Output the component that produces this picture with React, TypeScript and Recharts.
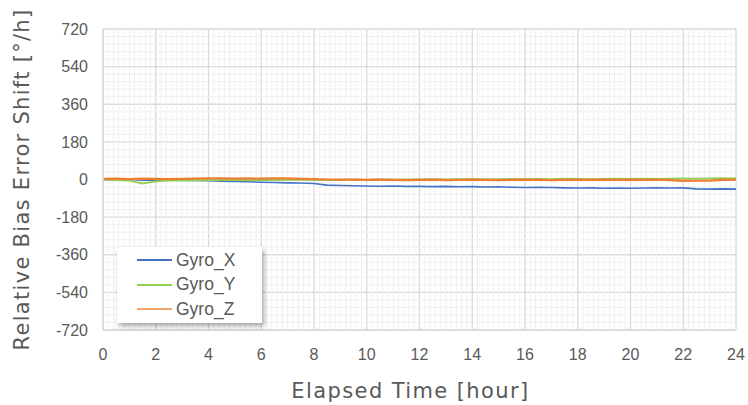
import React from "react";
import {
  LineChart,
  Line,
  XAxis,
  YAxis,
  CartesianGrid,
  ReferenceLine,
  Label,
} from "recharts";

// 経過時間 [hour]
const hours = [
  0, 0.5, 1, 1.5, 2, 2.5, 3, 3.5, 4, 4.5, 5, 5.5, 6, 6.5, 7, 7.5, 8, 8.5, 9, 9.5, 10, 10.5, 11,
  11.5, 12, 12.5, 13, 13.5, 14, 14.5, 15, 15.5, 16, 16.5, 17, 17.5, 18, 18.5, 19, 19.5, 20, 20.5,
  21, 21.5, 22, 22.5, 23, 23.5, 24,
];

const gyroX = [
  0, -1, 0, -3, -3, -2, -4, -5, -6, -8, -9, -11, -13, -14, -16, -17, -19, -27, -29, -30, -31, -32,
  -31, -33, -33, -34, -33, -35, -34, -36, -35, -37, -38, -37, -38, -40, -41, -40, -42, -41, -42,
  -41, -40, -41, -40, -45, -46, -45, -46,
];

const gyroY = [
  -1, -3, -5, -19, -9, -5, -4, -3, -4, -2, -3, -4, -3, -2, -3, -1, -2, -3, -2, -1, -2, 0, -1, 1, 0,
  2, 1, 2, 3, 1, 2, 3, 2, 3, 2, 4, 3, 2, 3, 4, 3, 4, 3, 4, 5, 4, 5, 6, 5,
];

const gyroZ = [
  3, 4, 2, 4, 3, 2, 3, 4, 5, 6, 4, 5, 4, 6, 5, 3, 2, 0, -1, 0, -2, -1, -2, -3, -2, -1, -3, -2, -1,
  -2, -3, -2, -1, -2, -3, -2, -1, -2, -1, -2, -1, -2, -1, -3, -7, -6, -5, -2, -1,
];

const xTicks = [0, 2, 4, 6, 8, 10, 12, 14, 16, 18, 20, 22, 24];
const yTicks = [-720, -540, -360, -180, 0, 180, 360, 540, 720];

// 補助目盛 (5分割)
const xMinor = Array.from({ length: 121 }, (_, i) => i * 0.2).filter(
  (v) => Math.abs(v / 2 - Math.round(v / 2)) > 1e-6
);
const yMinor = Array.from({ length: 41 }, (_, i) => -720 + i * 36).filter(
  (v) => v % 180 !== 0
);

const series = [
  { key: "Gyro_X", color: "#4472C4", width: 1.6 },
  { key: "Gyro_Y", color: "#92D050", width: 1.8 },
  { key: "Gyro_Z", color: "#ED7D31", width: 2.2 },
];

const data = hours.map((h, i) => ({
  hour: h,
  Gyro_X: gyroX[i],
  Gyro_Y: gyroY[i],
  Gyro_Z: gyroZ[i],
}));

const TEXT = "#595959";
const TICK_FONT = "'Liberation Sans', Arial, sans-serif";
const TITLE_FONT = "'DejaVu Sans', 'Noto Sans', sans-serif";

// 凡例はチャートの余白に影響させないため重ねて配置
function LegendBox() {
  return (
    <div
      style={{
        position: "absolute",
        left: 117,
        top: 247,
        background: "#fff",
        width: 145,
        height: 76,
        boxShadow: "2px 3px 5px rgba(0,0,0,0.35)",
        paddingTop: 1,
        boxSizing: "border-box",
      }}
    >
      {series.map((s) => (
        <div
          key={s.key}
          style={{ display: "flex", alignItems: "center", height: 24.5, paddingLeft: 20 }}
        >
          <div
            style={{
              width: 35,
              height: 2,
              background: s.color,
              opacity: s.key === "Gyro_Z" ? 0.7 : 1,
            }}
          />
          <span style={{ marginLeft: 4, fontFamily: TICK_FONT, fontSize: 17.5, color: TEXT }}>
            {s.key}
          </span>
        </div>
      ))}
    </div>
  );
}

export default function App() {
  return (
    <div
      style={{ position: "absolute", left: 0, top: 0, width: 748, height: 405, background: "#fff" }}
    >
      <LineChart
        width={748}
        height={405}
        data={data}
        margin={{ top: 29, right: 12, bottom: 0, left: 0 }}
      >
        {xMinor.map((v) => (
          <ReferenceLine key={`xm${v}`} x={v} stroke="#f0f0f0" strokeWidth={1} />
        ))}
        {yMinor.map((v) => (
          <ReferenceLine key={`ym${v}`} y={v} stroke="#f0f0f0" strokeWidth={1} />
        ))}
        <CartesianGrid stroke="#d9d9d9" strokeWidth={1.3} />
        <XAxis
          dataKey="hour"
          type="number"
          domain={[0, 24]}
          ticks={xTicks}
          height={75}
          tickLine={false}
          tickSize={0}
          tickMargin={19}
          axisLine={{ stroke: "#d9d9d9", strokeWidth: 1.5 }}
          tick={{ fill: TEXT, fontSize: 16, fontFamily: TICK_FONT }}
          interval={0}
        >
          <Label
            value="Elapsed Time [hour]"
            position="insideBottom"
            offset={7}
            dx={-9}
            style={{ fill: TEXT, fontSize: 21, letterSpacing: 1.4, fontFamily: TITLE_FONT }}
          />
        </XAxis>
        <YAxis
          type="number"
          domain={[-720, 720]}
          ticks={yTicks}
          width={103}
          tickLine={false}
          tickSize={0}
          tickMargin={15}
          axisLine={{ stroke: "#d9d9d9", strokeWidth: 1.5 }}
          tick={{ fill: TEXT, fontSize: 16, fontFamily: TICK_FONT }}
          interval={0}
        >
          <Label
            value="Relative Bias Error Shift [°/h]"
            angle={-90}
            position="insideLeft"
            offset={22}
            style={{
              fill: TEXT,
              fontSize: 21,
              letterSpacing: 1.3,
              fontFamily: TITLE_FONT,
              textAnchor: "middle",
            }}
          />
        </YAxis>
        {series.map((s) => (
          <Line
            key={s.key}
            dataKey={s.key}
            stroke={s.color}
            strokeWidth={s.width}
            dot={false}
            type="linear"
            isAnimationActive={false}
          />
        ))}
      </LineChart>
      <LegendBox />
    </div>
  );
}
